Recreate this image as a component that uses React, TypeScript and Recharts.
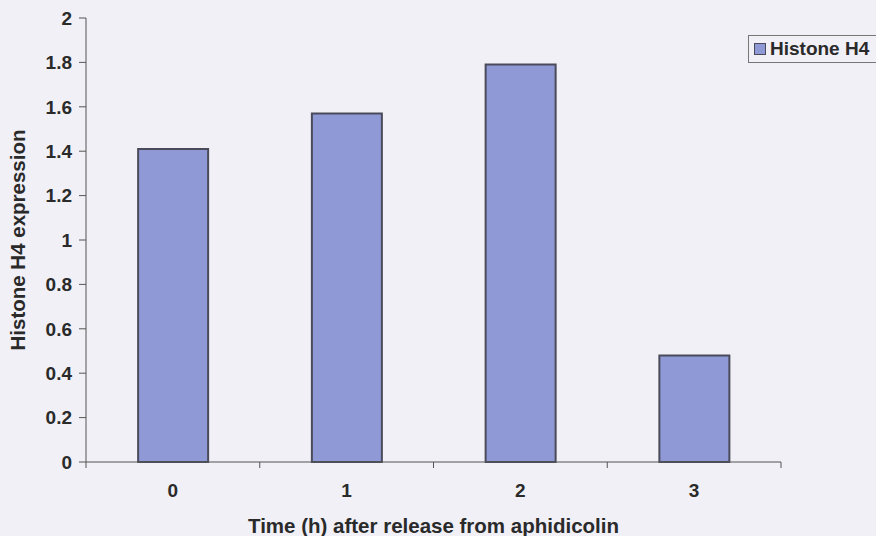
import { BarChart, Bar, XAxis, YAxis } from 'recharts';

const timePoints = ['0', '1', '2', '3'];
const histoneH4 = [1.41, 1.57, 1.79, 0.48];
const yTicks = [0, 0.2, 0.4, 0.6, 0.8, 1, 1.2, 1.4, 1.6, 1.8, 2];

const data = timePoints.map((t, i) => ({ time: t, h4: histoneH4[i] }));

const W = 876;
const H = 536;
const MARGIN = { top: 18, right: 95, left: 0, bottom: 0 };
const Y_AXIS_W = 86;
const X_AXIS_H = 74;
const BAND = (W - MARGIN.left - Y_AXIS_W - MARGIN.right) / timePoints.length;

const FONT = '"Liberation Sans", Arial, sans-serif';
const BAR_FILL = '#8e99d6';
const BAR_EDGE = '#4a4a5a';
const AXIS = '#555';
const TEXT = '#2a2a2a';

function XTick(props: any) {
    const { x, y, payload, index } = props;
    const half = BAND / 2;
    const axisY = y - 8;
    return (
        <g>
            <line x1={x - half} y1={axisY} x2={x - half} y2={axisY + 6} stroke={AXIS} />
            {index === timePoints.length - 1 && (
                <line x1={x + half} y1={axisY} x2={x + half} y2={axisY + 6} stroke={AXIS} />
            )}
            <text x={x} y={axisY + 28} textAnchor="middle" dominantBaseline="central"
                fontFamily={FONT} fontSize={19} fontWeight="bold" fill={TEXT}>
                {payload.value}
            </text>
        </g>
    );
}

export default function App() {
    return (
        <div style={{ position: 'absolute', left: 0, top: 0, width: W, height: H, background: '#f0f0f6', overflow: 'hidden' }}>
            <BarChart width={W} height={H} data={data} margin={MARGIN} barCategoryGap="30%">
                <XAxis
                    dataKey="time"
                    height={X_AXIS_H}
                    stroke={AXIS}
                    tickLine={false}
                    tick={<XTick />}
                    interval={0}
                    label={{
                        value: 'Time (h) after release from aphidicolin', position: 'insideBottom', offset: 3,
                        style: { fontFamily: FONT, fontSize: 20.5, fontWeight: 'bold', fill: TEXT },
                    }}
                />
                <YAxis
                    width={Y_AXIS_W}
                    domain={[0, 2]}
                    ticks={yTicks}
                    interval={0}
                    stroke={AXIS}
                    tickSize={7}
                    tickMargin={7}
                    tick={{ fontFamily: FONT, fontSize: 19, fontWeight: 'bold', fill: TEXT }}
                    label={{
                        value: 'Histone H4 expression', angle: -90, position: 'insideLeft', offset: 18,
                        style: { textAnchor: 'middle', fontFamily: FONT, fontSize: 20.5, fontWeight: 'bold', fill: TEXT },
                    }}
                />
                <Bar dataKey="h4" name="Histone H4" fill={BAR_FILL} stroke={BAR_EDGE} strokeWidth={2} isAnimationActive={false} />
            </BarChart>
            <div style={{
                position: 'absolute', left: 748, top: 35, height: 26, display: 'flex', alignItems: 'center',
                border: '1px solid #777', borderRight: 'none', paddingLeft: 5, paddingRight: 10,
                fontFamily: FONT, fontSize: 19, fontWeight: 'bold', color: TEXT, whiteSpace: 'nowrap',
            }}>
                <span style={{ width: 10, height: 10, background: BAR_FILL, border: `1px solid ${BAR_EDGE}`, marginRight: 4 }} />
                Histone H4
            </div>
        </div>
    );
}
